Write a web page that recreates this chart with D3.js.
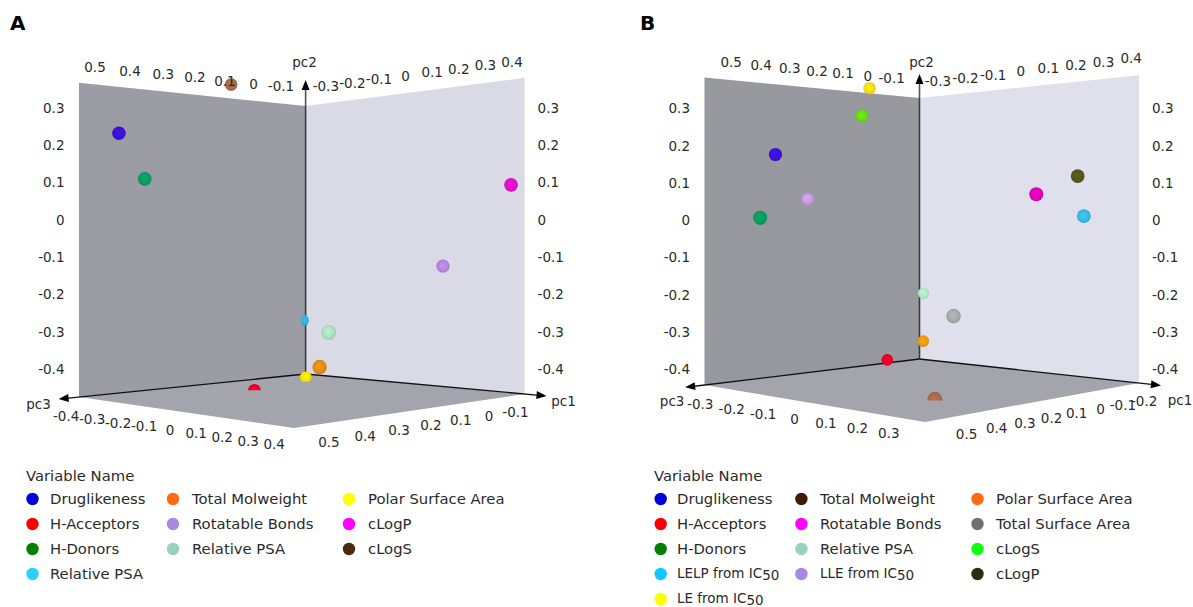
<!DOCTYPE html>
<html lang="en">
<head>
<meta charset="utf-8">
<title>PCA loadings A and B</title>
<script src="https://cdn.jsdelivr.net/npm/d3@7"></script>
<style>
  body { margin: 0; background: #fff; }
  text { font-family: "DejaVu Sans", sans-serif; fill: #2a2a2a; }
  .tick { font-size: 13.5px; dominant-baseline: central; text-anchor: middle; }
  .legend { font-size: 14.8px; dominant-baseline: central; }
  .letter { font-size: 20px; font-weight: bold; fill: #000; }
</style>
</head>
<body>
<script>
// panel A values
var namesA = ["Druglikeness", "H-Acceptors", "H-Donors", "Relative PSA", "Total Molweight",
              "Rotatable Bonds", "Relative PSA", "Polar Surface Area", "cLogP", "cLogS"];
var pc1A = [0.519, 0.174, 0.50, -0.19, 0.289, -0.069, 0.32, -0.049, -0.092, 0.209];
var pc2A = [0.223, -0.475, 0.101, -0.306, -0.377, -0.133, -0.286, -0.462, 0.077, 0.377];
var pc3A = [-0.247, -0.163, -0.164, -0.39, 0.225, 0.28, 0.291, -0.22, 0.479, -0.216];
var sphereA = ["#3a10d8", "#e8002a", "#0a9a60", "#30b0e0", "#e08c18",
               "#b484e0", "#a8e0c0", "#f0e400", "#e010c8", "#a46a4a"];
var keyA = ["#0000d8", "#ff0000", "#008000", "#29d0ff", "#ff6a10",
            "#a888e0", "#98d0c4", "#ffff00", "#ff00ff", "#4a2a10"];
var rowsA = [4, 3, 3];

// panel B values
var namesB = ["Druglikeness", "H-Acceptors", "H-Donors", "LELP from IC50", "LE from IC50",
              "Total Molweight", "Rotatable Bonds", "Relative PSA", "LLE from IC50",
              "Polar Surface Area", "Total Surface Area", "cLogS", "cLogP"];
var pc1B = [0.445, -0.012, 0.591, -0.032, 0.146, 0.36, 0.082, -0.184, 0.329, -0.107, 0.309, 0.225, -0.021];
var pc2B = [0.176, -0.422, 0.006, 0.006, 0.373, -0.44, 0.063, -0.231, 0.057, -0.369, -0.239, 0.286, 0.11];
var pc3B = [-0.259, -0.308, -0.132, 0.385, -0.216, 0.239, 0.323, -0.325, -0.266, -0.251, 0.252, -0.162, 0.374];
var sphereB = ["#3a10d8", "#e8002a", "#0a9a60", "#38b8e0", "#efdc10", "#a8684a", "#e000b8",
               "#a8e8c0", "#c89ae0", "#e89a10", "#a8a8a8", "#66dd10", "#55551a"];
var keyB = ["#0000d8", "#ff0000", "#008000", "#10c8ff", "#ffff00", "#401c08", "#ff00ff",
            "#98d0c4", "#a888e0", "#ff6a10", "#707070", "#10ff10", "#2c2c10"];
var rowsB = [5, 4, 4];

// tick labels
var pc1TicksTop = [-0.1, 0, 0.1, 0.2, 0.3, 0.4, 0.5];
var pc3TicksTop = [-0.3, -0.2, -0.1, 0, 0.1, 0.2, 0.3, 0.4];
var pc2Ticks = [-0.4, -0.3, -0.2, -0.1, 0, 0.1, 0.2, 0.3];
var pc1TicksBottomA = [-0.1, 0, 0.1, 0.2, 0.3, 0.4, 0.5];
var pc3TicksBottomA = [-0.4, -0.3, -0.2, -0.1, 0, 0.1, 0.2, 0.3, 0.4];
var pc1TicksBottomB = [-0.2, -0.1, 0, 0.1, 0.2, 0.3, 0.4, 0.5];
var pc3TicksBottomB = [-0.3, -0.2, -0.1, 0, 0.1, 0.2, 0.3];

var w = 1193, h = 607;
var svg = d3.select("body").append("svg").attr("width", w).attr("height", h);
var defs = svg.append("defs");
var uid = 0;

// perspective camera from the four floor corners, verticals stay vertical
function makeCamera(c) {
  var dx1 = c.left[0] - c.front[0], dx2 = c.right[0] - c.front[0];
  var dy1 = c.left[1] - c.front[1], dy2 = c.right[1] - c.front[1];
  var sx = c.back[0] - c.left[0] + c.front[0] - c.right[0];
  var sy = c.back[1] - c.left[1] + c.front[1] - c.right[1];
  var den = dx1 * dy2 - dx2 * dy1;
  var g = (sx * dy2 - dx2 * sy) / den;
  var k = (dx1 * sy - sx * dy1) / den;
  return function(u, v, t) {
    var d = 1 + g * u + k * v;
    var x = (c.back[0] + (c.left[0] * (1 + g) - c.back[0]) * u + (c.right[0] * (1 + k) - c.back[0]) * v) / d;
    var y = (c.back[1] + (c.left[1] * (1 + g) - c.back[1]) * u + (c.right[1] * (1 + k) - c.back[1]) * v) / d;
    return { x: x, y: y - c.height * t / (1 + 0.885 * (g * u + k * v)), floor: y, depth: d };
  };
}

function lerp(a, b, f) {
  return [a[0] + (b[0] - a[0]) * f, a[1] + (b[1] - a[1]) * f];
}

function drawPanel(p) {
  var cam = makeCamera(p.corners);
  var c = p.corners;
  var uScale = d3.scaleLinear().domain(p.pc1Domain).range([0, 1]);
  var vScale = d3.scaleLinear().domain(p.pc3Domain).range([0, 1]);
  var tScale = d3.scaleLinear().domain(p.pc2Domain).range([0, 1]);
  var g = svg.append("g");
  var poly = d3.line().x(function(d) { return d.x; }).y(function(d) { return d.y; }).curve(d3.curveLinearClosed);

  g.append("path").attr("fill", p.floorFill)
    .attr("d", poly([cam(0, 0, 0), cam(1, 0, 0), cam(1, 1, 0), cam(0, 1, 0)]));
  g.append("path").attr("fill", p.leftFill)
    .attr("d", poly([cam(0, 0, 0), cam(1, 0, 0), cam(1, 0, 1), cam(0, 0, 1)]));
  g.append("path").attr("fill", p.rightFill)
    .attr("d", poly([cam(0, 0, 0), cam(0, 1, 0), cam(0, 1, 1), cam(0, 0, 1)]));

  // axes with arrow heads
  var tipL = lerp(c.back, c.left, 1.09), tipR = lerp(c.back, c.right, 1.1);
  var tipT = [c.back[0], cam(0, 0, 1).y - p.arrowRise];
  var corner = cam(0, 0, 0), top = cam(0, 0, 1);
  g.append("line").attr("x1", corner.x).attr("y1", corner.y).attr("x2", top.x).attr("y2", top.y)
    .attr("stroke", "#3c3c40").attr("stroke-width", 1.6);
  g.append("line").attr("x1", top.x).attr("y1", top.y).attr("x2", tipT[0]).attr("y2", tipT[1] + 8)
    .attr("stroke", "#555").attr("stroke-width", 1.6);
  [tipL, tipR].forEach(function(tip) {
    var a = lerp(c.back, tip, 0.97);
    g.append("line").attr("x1", corner.x).attr("y1", corner.y).attr("x2", a[0]).attr("y2", a[1])
      .attr("stroke", "#111").attr("stroke-width", 1.3);
    var ang = Math.atan2(tip[1] - c.back[1], tip[0] - c.back[0]) * 180 / Math.PI;
    g.append("path").attr("d", "M0,0L-10,-4L-10,4Z").attr("fill", "#000")
      .attr("transform", "translate(" + tip[0] + "," + tip[1] + ") rotate(" + ang + ")");
  });
  g.append("path").attr("d", "M0,0L-4,10L4,10Z").attr("fill", "#000")
    .attr("transform", "translate(" + tipT[0] + "," + tipT[1] + ")");

  // spheres, far ones first
  var pts = p.names.map(function(n, i) {
    var u = uScale(p.pc1[i]), v = vScale(p.pc3[i]), t = tScale(p.pc2[i]);
    var q = cam(u, v, t);
    return { u: u, v: v, x: q.x, y: q.y, floor: q.floor, r: 5.5 / q.depth, depth: q.depth, color: p.sphere[i] };
  }).sort(function(a, b) { return b.depth - a.depth; });

  pts.forEach(function(d) {
    var id = "s" + (uid++);
    var grad = defs.append("radialGradient").attr("id", id).attr("cx", 0.5).attr("cy", 0.5).attr("r", 0.55)
      .attr("fx", 0.45).attr("fy", 0.4);
    var col = d3.color(d.color);
    grad.append("stop").attr("offset", "0%").attr("stop-color", col.brighter(0.25));
    grad.append("stop").attr("offset", "70%").attr("stop-color", col);
    grad.append("stop").attr("offset", "100%").attr("stop-color", col.darker(0.4));
    var e = g.append("ellipse").attr("cx", d.x).attr("cy", d.y).attr("ry", d.r)
      // a sphere sitting in the wall corner only shows its front sliver
      .attr("rx", d.u < 0.02 && d.v < 0.02 ? d.r * 0.72 : d.r)
      .attr("fill", "url(#" + id + ")");
    if (d.floor < d.y + d.r) {
      // cut by the floor plane
      defs.append("clipPath").attr("id", id + "c").append("rect")
        .attr("x", d.x - 20).attr("y", d.y - 20).attr("width", 40).attr("height", d.floor - d.y + 20);
      e.attr("clip-path", "url(#" + id + "c)");
    }
  });

  // tick labels; the pc3 ones sit evenly spaced between their two end labels
  function labels(ticks, pos, pad, even) {
    var n = ticks.length - 1;
    var first = pos(ticks[0]), last = pos(ticks[n]);
    var a = [first.x + pad[0][0], first.y + pad[0][1]], b = [last.x + pad[1][0], last.y + pad[1][1]];
    g.selectAll(null).data(ticks).enter().append("text").attr("class", "tick")
      .attr("x", function(d, i) {
        return even ? lerp(a, b, i / n)[0] : pos(d).x + pad[0][0] + (pad[1][0] - pad[0][0]) * i / n;
      })
      .attr("y", function(d, i) {
        return even ? lerp(a, b, i / n)[1] : pos(d).y + pad[0][1] + (pad[1][1] - pad[0][1]) * i / n;
      })
      .text(function(d) { return String(d); });
  }
  labels(pc1TicksTop, function(d) { return cam(uScale(d), 0, 1); }, p.padTopLeft, false);
  labels(pc3TicksTop, function(d) { return cam(0, vScale(d), 1); }, p.padTopRight, true);
  labels(p.pc3Bottom, function(d) { return cam(1, vScale(d), 0); }, p.padBottomLeft, true);
  labels(p.pc1Bottom, function(d) { return cam(uScale(d), 1, 0); }, p.padBottomRight, false);

  pc2Ticks.forEach(function(d) {
    var q = cam(1, 0, tScale(d));
    g.append("text").attr("class", "tick").style("text-anchor", "end")
      .attr("x", c.left[0] - 14.5).attr("y", q.y).text(d);
    g.append("text").attr("class", "tick").style("text-anchor", "start")
      .attr("x", c.right[0] + 13).attr("y", q.y).text(d);
  });

  g.append("text").attr("class", "tick").attr("x", tipT[0] + p.pc2Off[0]).attr("y", tipT[1] + p.pc2Off[1]).text("pc2");
  g.append("text").attr("class", "tick").attr("x", tipL[0] + p.pc3Off[0]).attr("y", tipL[1] + p.pc3Off[1]).text("pc3");
  g.append("text").attr("class", "tick").attr("x", tipR[0] + p.pc1Off[0]).attr("y", tipR[1] + p.pc1Off[1]).text("pc1");

  g.append("text").attr("class", "letter").attr("x", p.letterX).attr("y", 30).text(p.letter);

  // legend
  g.append("text").attr("class", "legend").attr("x", p.legendTitleX).attr("y", 475).text("Variable Name");
  var idx = 0;
  var rowY = d3.scaleLinear().domain([0, 4]).range([499, 599]);
  p.rows.forEach(function(count, col) {
    d3.range(count).forEach(function(r) {
      var name = p.names[idx];
      g.append("circle").attr("cx", p.legendDots[col]).attr("cy", rowY(r)).attr("r", 6.2).attr("fill", p.key[idx]);
      var t = g.append("text").attr("class", "legend").attr("x", p.legendText[col]).attr("y", rowY(r) - 1);
      if (/IC50$/.test(name)) {
        t.style("font-size", "13.5px");
        t.append("tspan").text(name.replace("50", ""));
        t.append("tspan").attr("dy", 2).text("50");
      } else {
        t.text(name);
      }
      idx++;
    });
  });
}

drawPanel({
  letter: "A", letterX: 10,
  names: namesA, pc1: pc1A, pc2: pc2A, pc3: pc3A, sphere: sphereA, key: keyA, rows: rowsA,
  corners: { back: [305.6, 374], left: [79, 397], right: [524.6, 394], front: [294, 428], height: 268 },
  pc1Domain: [-0.194, 0.544], pc2Domain: [-0.475, 0.367], pc3Domain: [-0.391, 0.44],
  floorFill: "#a4a4ac", leftFill: "#9c9ca4", rightFill: "#dadae6",
  arrowRise: 26, pc2Off: [-1, -18], pc3Off: [-20, 5], pc1Off: [17, 5],
  pc1Bottom: pc1TicksBottomA, pc3Bottom: pc3TicksBottomA,
  padTopLeft: [[0, -17], [0, -17]], padTopRight: [[0, -17], [0, -17.5]],
  padBottomLeft: [[-11, 19], [-7, 18]], padBottomRight: [[15, 14], [18, 16]],
  legendTitleX: 26, legendDots: [32.5, 173, 349], legendText: [50, 192, 368]
});

drawPanel({
  letter: "B", letterX: 640,
  names: namesB, pc1: pc1B, pc2: pc2B, pc3: pc3B, sphere: sphereB, key: keyB, rows: rowsB,
  corners: { back: [919.5, 359], left: [704.5, 385], right: [1139, 383], front: [925, 422], height: 261 },
  pc1Domain: [-0.223, 0.585], pc2Domain: [-0.443, 0.383], pc3Domain: [-0.38, 0.424],
  floorFill: "#a4a4ac", leftFill: "#98989f", rightFill: "#e0e0ec",
  arrowRise: 24, pc2Off: [2, -12], pc3Off: [-13, 14], pc1Off: [19, 15],
  pc1Bottom: pc1TicksBottomB, pc3Bottom: pc3TicksBottomB,
  padTopLeft: [[0, -17], [0, -17.6]], padTopRight: [[0, -15], [0, -17.7]],
  padBottomLeft: [[-22, 16], [5, 18]], padBottomRight: [[10, 17], [14, 17]],
  legendTitleX: 654, legendDots: [660.7, 801.4, 977.5], legendText: [677, 820, 996]
});
</script>
</body>
</html>
